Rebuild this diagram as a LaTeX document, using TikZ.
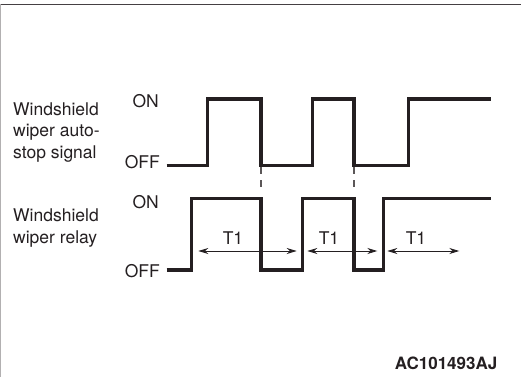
\documentclass[tikz,border=0pt]{standalone}
\usepackage{fontspec}
\setmainfont{TeX Gyre Heros}
\usetikzlibrary{arrows.meta}
\usetikzlibrary{positioning}
\definecolor{ink}{rgb}{0.14,0.12,0.13}

\begin{document}
\begin{tikzpicture}[x=1pt,y=-1pt,
    wave/.style={ink, line width=3.3pt},
    guide/.style={ink!75, line width=1.1pt, dash pattern=on 7pt off 6pt},
    tspan/.style={ink, line width=0.9pt, {Stealth[length=10pt,width=6pt]}-{Stealth[length=10pt,width=6pt]}},
    lbl/.style={ink, inner sep=0pt, font=\fontsize{17.5}{21.5}\selectfont}]
            \useasboundingbox (0,0) rectangle (521,377);
            % frame
            \draw[ink!85, line width=1.6pt] (0,4.5) -- (521,4.5);
            \draw[ink!35, line width=0.8pt] (0.5,4.5) -- (0.5,377);

            % auto-stop signal
            \draw[wave] (166.7,165.7) -- (207.3,165.7) -- (207.3,99) -- (261,99) -- (261,165.7)
                -- (312.7,165.7) -- (312.7,99) -- (354,99) -- (354,165.7)
                -- (408.3,165.7) -- (408.3,99) -- (490.7,99);
            % relay
            \draw[wave] (166.7,270) -- (191.7,270) -- (191.7,198.3) -- (261,198.3) -- (261,270)
                -- (302.7,270) -- (302.7,198.3) -- (354,198.3) -- (354,270)
                -- (383.3,270) -- (383.3,198.3) -- (490.7,198.3);

            \draw[guide] (261,167) -- (261,191);
            \draw[guide] (354,167) -- (354,191);

            \node[lbl, anchor=north west, align=left] (sig) at (13,102.3) {Windshield\\wiper auto-\\stop signal};
            \node[lbl, anchor=north west, align=left] (rly) at (13,209) {Windshield\\wiper relay};
            \node[lbl, anchor=base east] (sigon) at (159,107.3) {ON};
            \node[lbl, anchor=base east] (sigoff) at (160,168.7) {OFF};
            \node[lbl, anchor=base east] (rlyon) at (159,208.3) {ON};
            \node[lbl, anchor=base east] (rlyoff) at (160,277.3) {OFF};

            % T1 spans
            \coordinate (ta) at (198.3,251);
            \coordinate (tb) at (296.7,251);
            \coordinate (tc) at (307.3,251);
            \coordinate (td) at (377.3,251);
            \coordinate (te) at (387.3,251);
            \coordinate (tf) at (459.3,251);
            \draw[tspan] (ta) -- (tb);
            \draw[tspan] (tc) -- (td);
            \draw[tspan] (te) -- (tf);
            \node[lbl, anchor=base] (tone) at (233,244) {T1};
            \node[lbl, anchor=base] (ttwo) at (329,244) {T1};
            \node[lbl, anchor=base] (tthree) at (416,244) {T1};

            \node[lbl, anchor=base east, font=\fontsize{17}{20}\selectfont\bfseries] (code) at (497.5,369) {AC101493AJ};
\end{tikzpicture}
\end{document}
